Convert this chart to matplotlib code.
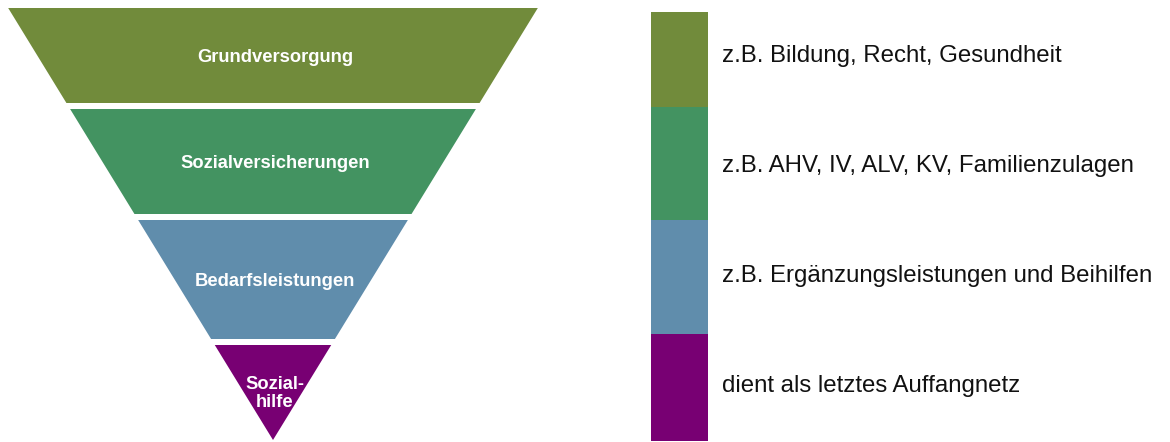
"""Inverted pyramid of Swiss social security levels with a side legend bar."""

import matplotlib

matplotlib.use("Agg")
import matplotlib.pyplot as plt
from matplotlib.patches import Polygon, Rectangle

plt.rcParams["font.family"] = ["Liberation Sans", "DejaVu Sans"]

LEVELS = ["Grundversorgung", "Sozialversicherungen", "Bedarfsleistungen", "Sozial-\nhilfe"]
DESCRIPTIONS = [
    "z.B. Bildung, Recht, Gesundheit",
    "z.B. AHV, IV, ALV, KV, Familienzulagen",
    "z.B. Ergänzungsleistungen und Beihilfen",
    "dient als letztes Auffangnetz",
]
COLORS = ["#718b3b", "#439361", "#608dac", "#780073"]

# depth of each level boundary in the funnel (top to apex)
PYRAMID_EDGES = [8, 106, 217, 342, 440]
# boundaries of the legend bar segments
BAR_EDGES = [12, 107, 220, 334, 441]

APEX_X = 273
SLOPE = 0.613  # half-width per unit of depth
GAP = 3

fig = plt.figure(figsize=(11.7, 4.42), dpi=100)
ax = fig.add_axes([0, 0, 1, 1])
ax.set_xlim(0, 1170)
ax.set_ylim(442, 0)
ax.axis("off")

apex_y = PYRAMID_EDGES[-1]
for i, (name, color) in enumerate(zip(LEVELS, COLORS)):
    top = PYRAMID_EDGES[i] + (GAP if i > 0 else 0)
    bottom = PYRAMID_EDGES[i + 1] - (GAP if i < len(LEVELS) - 1 else 0)
    wt = (apex_y - top) * SLOPE
    wb = (apex_y - bottom) * SLOPE
    pts = [(APEX_X - wt, top), (APEX_X + wt, top), (APEX_X + wb, bottom), (APEX_X - wb, bottom)]
    ax.add_patch(Polygon(pts, closed=True, facecolor=color, edgecolor="none"))
    mid = (top + bottom) / 2
    if "\n" in name:
        ax.text(APEX_X + 2, mid + 1, name, color="white", fontsize=13.2, fontweight="bold",
                ha="center", va="center", linespacing=1.05)
    else:
        ax.text(APEX_X + 2, mid + 7, name, color="white", fontsize=13.2, fontweight="bold",
                ha="center", va="baseline")

for i, (desc, color) in enumerate(zip(DESCRIPTIONS, COLORS)):
    y0, y1 = BAR_EDGES[i], BAR_EDGES[i + 1]
    ax.add_patch(Rectangle((651, y0), 57, y1 - y0, facecolor=color, edgecolor="none"))
    ax.text(722, 62 + 110 * i, desc, color="#111111", fontsize=17.3,
            ha="left", va="baseline")

fig.savefig("out.png", dpi=100)
plt.close(fig)
